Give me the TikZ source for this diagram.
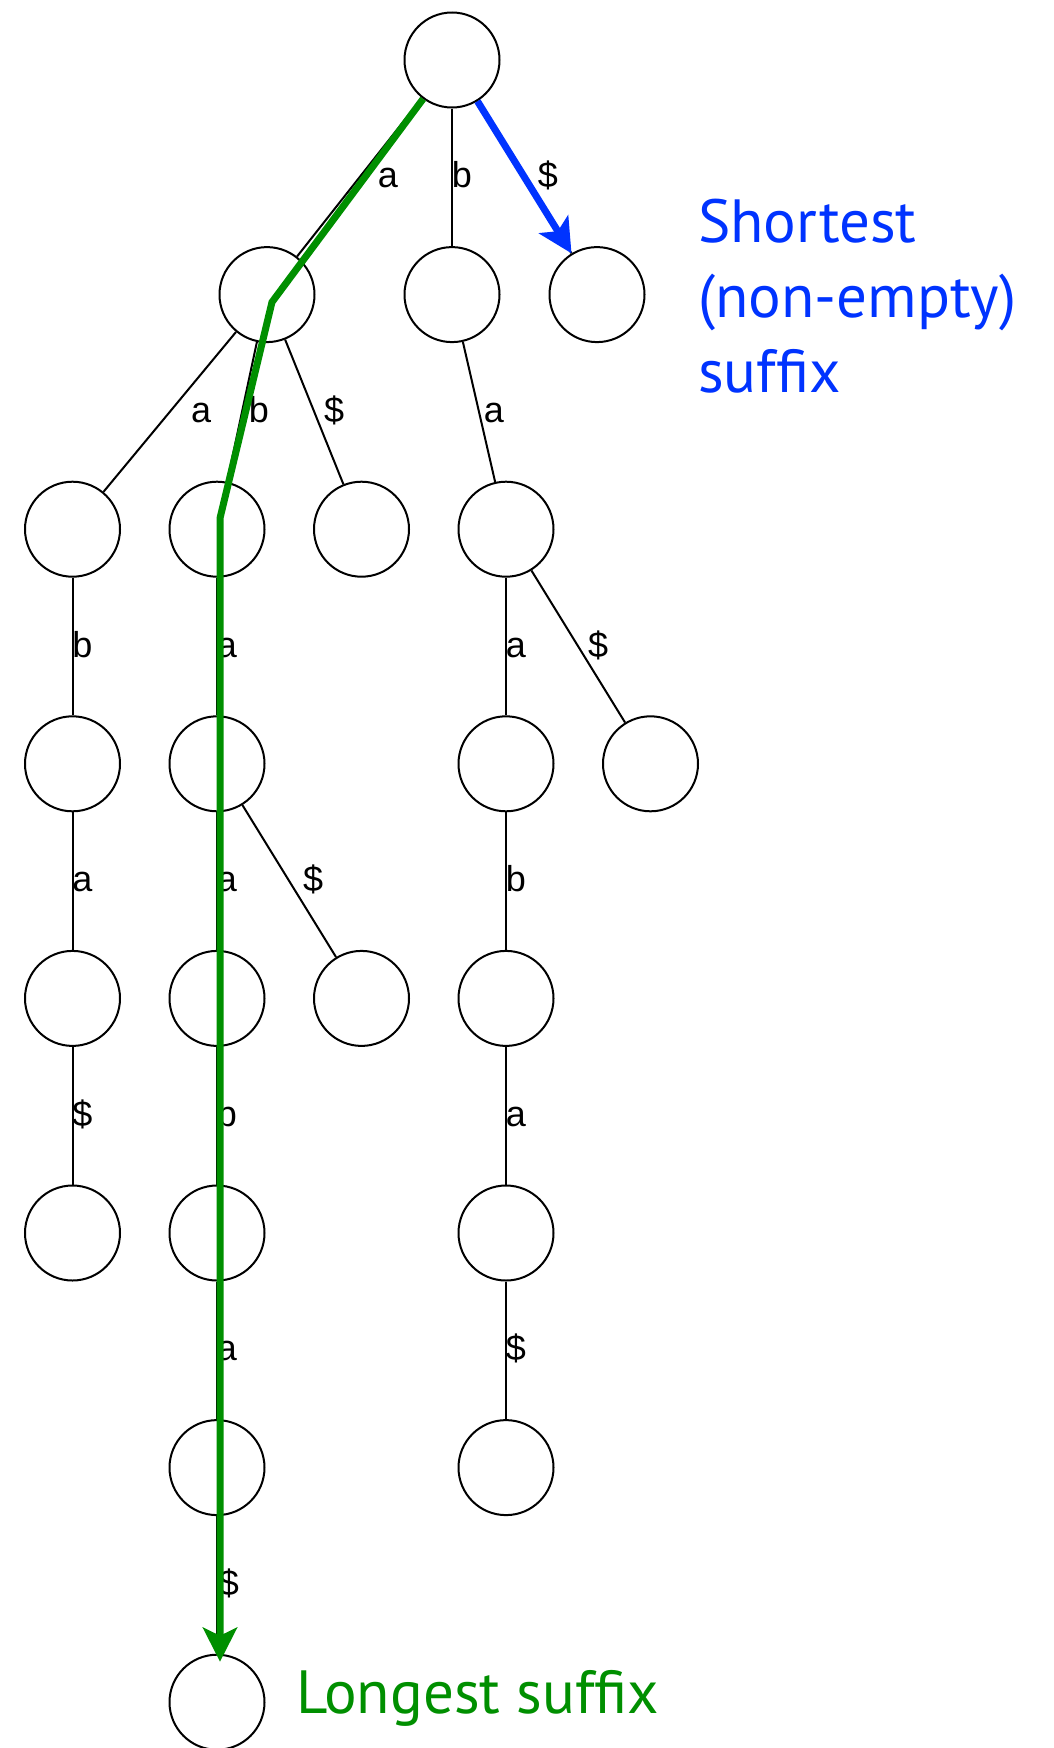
\documentclass[tikz,border=0pt]{standalone}
\usepackage{fontspec}
\setmainfont{Liberation Sans}
\newfontfamily\notefont{PT Sans}
\usetikzlibrary{arrows.meta}
\definecolor{pathgreen}{RGB}{0,143,0}
\definecolor{pathblue}{RGB}{0,51,255}

\begin{document}
\begin{tikzpicture}[x=1pt,y=-1pt,
  vertex/.style={circle, draw, line width=2pt, minimum size=95pt, inner sep=0pt},
  edge/.style={line width=2pt},
  lbl/.style={font=\fontsize{36}{40}\selectfont, inner sep=0pt, text height=21pt, text depth=0pt, midway},
  hilite/.style={line width=7pt, -{Stealth[length=34pt, width=34pt, inset=8pt]}},
  note/.style={font=\notefont\fontsize{61}{75}\selectfont, inner sep=0pt, align=left}
]
\useasboundingbox (0,0) rectangle (1053,1748);

% row heights and column positions
\def\ya{294.6}\def\yb{529.2}\def\yc{763.8}\def\yd{998.4}
\def\ye{1233}\def\yf{1467.6}\def\yg{1702.2}
\def\ca{72.5}\def\cb{217}\def\cc{361.5}\def\cd{506}\def\ce{650.5}

% nodes of the suffix trie
\node[vertex] (r) at (452,60) {};
\node[vertex] (a) at (267,\ya) {};
\node[vertex] (b) at (452,\ya) {};
\node[vertex] (d) at (597,\ya) {};
\node[vertex] (aa) at (\ca,\yb) {};
\node[vertex] (ab) at (\cb,\yb) {};
\node[vertex] (ad) at (\cc,\yb) {};
\node[vertex] (ba) at (\cd,\yb) {};
\node[vertex] (aab) at (\ca,\yc) {};
\node[vertex] (aba) at (\cb,\yc) {};
\node[vertex] (baa) at (\cd,\yc) {};
\node[vertex] (bad) at (\ce,\yc) {};
\node[vertex] (aaba) at (\ca,\yd) {};
\node[vertex] (abaa) at (\cb,\yd) {};
\node[vertex] (abad) at (\cc,\yd) {};
\node[vertex] (baab) at (\cd,\yd) {};
\node[vertex] (aabad) at (\ca,\ye) {};
\node[vertex] (abaab) at (\cb,\ye) {};
\node[vertex] (baaba) at (\cd,\ye) {};
\node[vertex] (abaaba) at (\cb,\yf) {};
\node[vertex] (baabad) at (\cd,\yf) {};
\node[vertex] (abaabad) at (\cb,\yg) {};

% labelled edges
\draw[edge] (r) -- node[lbl, xshift=28.5pt] {a} (a);
\draw[edge] (r) -- node[lbl, xshift=10pt] {b} (b);
\draw[edge] (r) -- node[lbl, xshift=23.5pt] {\$} (d);
\draw[edge] (a) -- node[lbl, xshift=31.5pt] {a} (aa);
\draw[edge] (a) -- node[lbl, xshift=17pt] {b} (ab);
\draw[edge] (a) -- node[lbl, xshift=20pt] {\$} (ad);
\draw[edge] (b) -- node[lbl, xshift=15pt] {a} (ba);
\draw[edge] (aa) -- node[lbl, xshift=10pt] {b} (aab);
\draw[edge] (ab) -- node[lbl, xshift=10pt] {a} (aba);
\draw[edge] (ba) -- node[lbl, xshift=10pt] {a} (baa);
\draw[edge] (ba) -- node[lbl, xshift=20pt] {\$} (bad);
\draw[edge] (aab) -- node[lbl, xshift=10pt] {a} (aaba);
\draw[edge] (aba) -- node[lbl, xshift=10pt] {a} (abaa);
\draw[edge] (aba) -- node[lbl, xshift=24pt] {\$} (abad);
\draw[edge] (baa) -- node[lbl, xshift=10pt] {b} (baab);
\draw[edge] (aaba) -- node[lbl, xshift=10pt] {\$} (aabad);
\draw[edge] (abaa) -- node[lbl, xshift=10pt] {b} (abaab);
\draw[edge] (baab) -- node[lbl, xshift=10pt] {a} (baaba);
\draw[edge] (abaab) -- node[lbl, xshift=10pt] {a} (abaaba);
\draw[edge] (baaba) -- node[lbl, xshift=10pt] {\$} (baabad);
\draw[edge] (abaaba) -- node[lbl, xshift=12pt] {\$} (abaabad);

% highlighted paths
\draw[hilite, pathgreen] (r) -- ([shift={(5,7.5)}]a.center) -- ([shift={(3,-11)}]ab.center)
  -- ([shift={(3,8)}]abaabad.north);
\draw[hilite, pathblue] (r) -- (d);

% annotations
\node[note, text=pathblue, anchor=north west] (shortnote) at (698,199)
  {Shortest\\(non-empty)\\suffix};
\node[note, text=pathgreen, anchor=base west] (longnote) at (296,1713) {Longest suffix};
\end{tikzpicture}
\end{document}
